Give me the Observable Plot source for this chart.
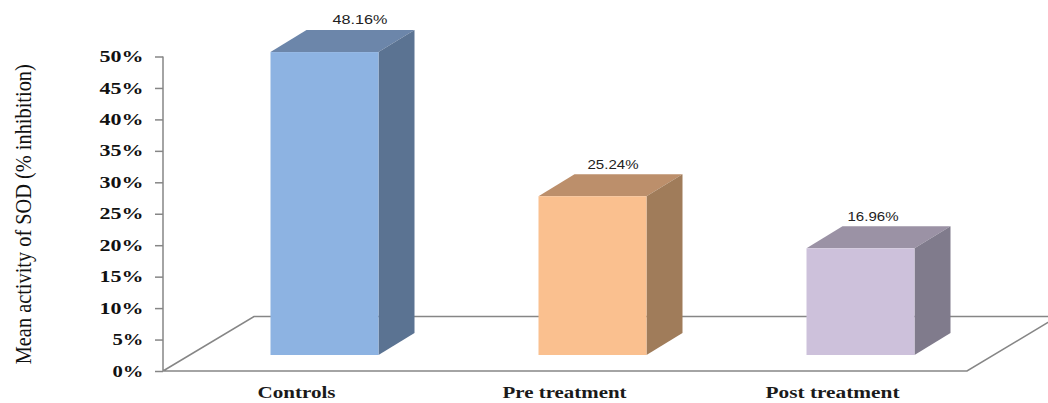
<!DOCTYPE html>
<html>
<head>
<meta charset="utf-8">
<script src="https://cdn.jsdelivr.net/npm/d3@7"></script>
<script src="https://cdn.jsdelivr.net/npm/@observablehq/plot@0.6"></script>
<style>
  html, body { margin: 0; padding: 0; background: #fff; }
  svg { display: block; overflow: hidden; }
</style>
</head>
<body>
<div id="chart"></div>
<script>
// SOD activity per patient group, in % inhibition
const groups = ["Controls", "Pre treatment", "Post treatment"];
const sodActivity = [48.16, 25.24, 16.96];
const yTicks = [0, 5, 10, 15, 20, 25, 30, 35, 40, 45, 50];
const yTitle = "Mean activity of SOD (% inhibition)";

// Box shading per group
const frontColors = ["#8DB3E2", "#FAC08F", "#CDC1DB"];
const topColors = ["#6C86AA", "#BC8F6B", "#9B92A5"];
const sideColors = ["#5B7392", "#A07C5A", "#807B8C"];
const axisGray = "#868686";

// Oblique projection used for the fake 3D look
const floorDepth = {x: 91, y: -54.5};
const boxFront = {x: 27.5, y: -16};
const boxDepth = {x: 36, y: -22};
const boxInset = 80;

// Horizontal stretch of the wide chart lettering, in px per string
const groupLabelWidths = {"Controls": 78, "Pre treatment": 124, "Post treatment": 134};
const valueLabelWidths = [55, 51, 51];
const valueLabelShift = [
  {dx: 35, dy: -11},
  {dx: 20, dy: -10},
  {dx: 12, dy: -9.5}
];

const rows = groups.map((group, i) => ({group, value: sodActivity[i], i}));
const valueText = (v) => `${v.toFixed(2)}%`;

// Floor parallelogram plus the vertical axis line
function floorMark(index, {x, y}) {
  const left = x.range()[0];
  const right = x.range()[1];
  const y0 = y(0);
  const g = d3.create("svg:g").attr("fill", "none").attr("stroke", axisGray).attr("stroke-width", 1.5);
  g.append("path").attr("d", `M${left},${y(50)}V${y0}H${right}l${floorDepth.x},${floorDepth.y}H${left + floorDepth.x}L${left},${y0}`);
  return g.node();
}

// Top and side faces of each box, placed from the x and y scales
function boxFaces(index, {x, y}) {
  const g = d3.create("svg:g");
  for (const row of rows) {
    const x0 = x(row.group) + boxInset + boxFront.x;
    const x1 = x(row.group) + x.bandwidth() - boxInset + boxFront.x;
    const yBase = y(0) + boxFront.y;
    const yTop = y(row.value) + boxFront.y;
    g.append("path")
      .attr("fill", topColors[row.i])
      .attr("d", `M${x0},${yTop}l${boxDepth.x},${boxDepth.y}H${x1 + boxDepth.x}L${x1},${yTop}Z`);
    g.append("path")
      .attr("fill", sideColors[row.i])
      .attr("d", `M${x1},${yTop}l${boxDepth.x},${boxDepth.y}V${yBase + boxDepth.y}L${x1},${yBase}Z`);
  }
  return g.node();
}

const chart = Plot.plot({
  width: 1048,
  height: 403,
  marginLeft: 163,
  marginRight: 81,
  marginTop: 56.5,
  marginBottom: 32,
  style: {background: "#fff", overflow: "hidden"},
  x: {domain: groups, padding: 0, axis: null},
  y: {domain: [0, 50], axis: null},
  marks: [
    floorMark,
    boxFaces,
    Plot.barY(rows, {
      x: "group",
      y: "value",
      fill: (d) => frontColors[d.i],
      insetLeft: boxInset,
      insetRight: boxInset,
      dx: boxFront.x,
      dy: boxFront.y
    }),
    Plot.axisY({
      ticks: yTicks,
      tickSize: 8,
      tickPadding: 12,
      strokeWidth: 1.5,
      stroke: axisGray,
      fill: "#111",
      tickFormat: (d) => `${d}%`,
      label: null,
      fontSize: 16,
      fontFamily: "Liberation Serif",
      fontWeight: "bold"
    }),
    Plot.axisX({
      tickSize: 0,
      tickPadding: 0,
      label: null,
      fontSize: 16.5,
      fontFamily: "Liberation Serif",
      fontWeight: "bold",
      fill: "#1a1a1a",
      dy: 15,
      dx: -1
    }),
    ...rows.map((row) =>
      Plot.text([row], {
        x: "group",
        y: "value",
        text: (d) => valueText(d.value),
        dx: boxFront.x + valueLabelShift[row.i].dx,
        dy: boxFront.y + boxDepth.y + valueLabelShift[row.i].dy,
        fontSize: 13,
        fontFamily: "Liberation Sans",
        fill: "#222"
      })
    ),
    Plot.text([yTitle], {
      frameAnchor: "left",
      textAnchor: "middle",
      rotate: -90,
      dx: -140,
      fontSize: 22.5,
      fontFamily: "Liberation Serif",
      fill: "#111"
    })
  ]
});

// The chart's lettering is set wide, so fit each string to its measured width
const svg = d3.select(chart);
function fit(node, width) {
  d3.select(node).attr("textLength", width).attr("lengthAdjust", "spacingAndGlyphs");
}
svg.selectAll("text").each(function () {
  const label = this.textContent;
  const valueIndex = sodActivity.findIndex((v) => valueText(v) === label);
  if (label === yTitle) fit(this, 300);
  else if (valueIndex >= 0) fit(this, valueLabelWidths[valueIndex]);
  else if (groupLabelWidths[label]) fit(this, groupLabelWidths[label]);
  else if (label.endsWith("%")) fit(this, label.length === 2 ? 31 : 44);
});

document.getElementById("chart").append(chart);
</script>
</body>
</html>
